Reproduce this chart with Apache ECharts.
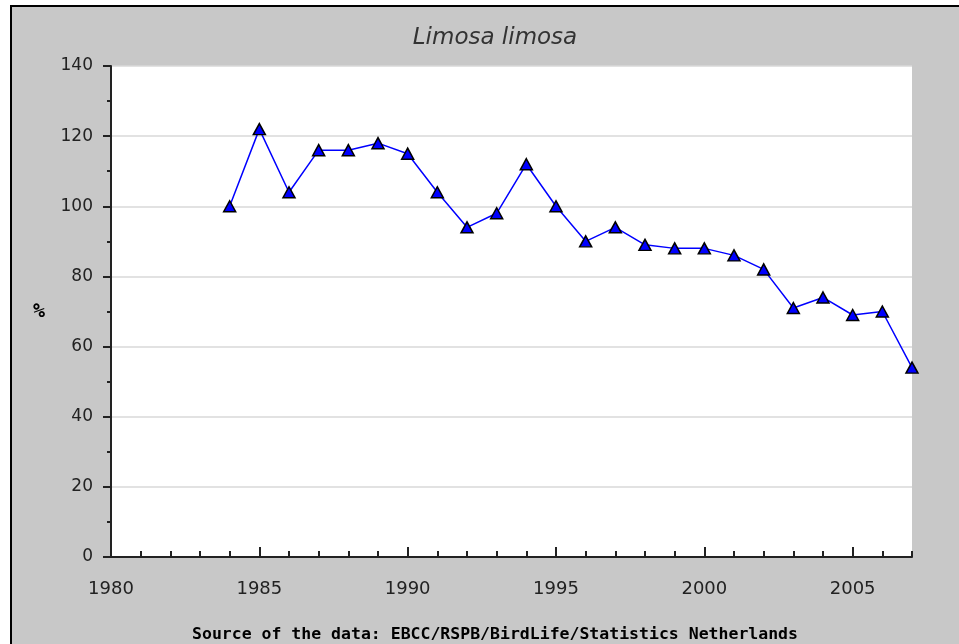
<!DOCTYPE html>
<html>
<head>
<meta charset="utf-8">
<script src="https://cdn.jsdelivr.net/npm/echarts@6/dist/echarts.min.js"></script>
<style>
  html, body { margin: 0; padding: 0; background: #fff; }
  #chart { width: 959px; height: 644px; }
</style>
</head>
<body>
<div id="chart"></div>
<script>
var myChart = echarts.init(document.getElementById('chart'));

// index values per year (1984 = 100)
var years = [1984, 1985, 1986, 1987, 1988, 1989, 1990, 1991, 1992, 1993, 1994, 1995,
    1996, 1997, 1998, 1999, 2000, 2001, 2002, 2003, 2004, 2005, 2006, 2007];
var values = [100, 122, 104, 116, 116, 118, 115, 104, 94, 98, 112, 100,
    90, 94, 89, 88, 88, 86, 82, 71, 74, 69, 70, 54];
var xLabels = [1980, 1985, 1990, 1995, 2000, 2005];

var data = years.map(function (y, i) { return [y, values[i]]; });

var labelFont = {
    color: '#222',
    fontFamily: 'DejaVu Sans',
    fontSize: 17
};

var option = {
    backgroundColor: '#fff',
    animation: false,
    graphic: {
        z: -10,
        elements: [{
            type: 'rect',
            z: -10,
            shape: {x: 11, y: 6, width: 1000, height: 700},
            style: {fill: '#c8c8c8', stroke: '#000', lineWidth: 2}
        }]
    },
    title: [
        {
            text: 'Limosa limosa',
            left: 490,
            top: 22,
            textAlign: 'center',
            textStyle: {
                color: '#333',
                fontFamily: 'DejaVu Sans',
                fontStyle: 'italic',
                fontWeight: 'normal',
                fontSize: 23
            }
        },
        {
            text: 'Source of the data: EBCC/RSPB/BirdLife/Statistics Netherlands',
            left: 490,
            top: 621,
            textAlign: 'center',
            textStyle: {
                color: '#000',
                fontFamily: 'DejaVu Sans Mono',
                fontWeight: 'bold',
                fontSize: 16.5
            }
        }
    ],
    grid: {
        left: 111,
        top: 66,
        right: 47,
        bottom: 87,
        show: true,
        backgroundColor: '#fff',
        borderWidth: 0
    },
    xAxis: [
        {
            type: 'value',
            min: 1980,
            max: 2007,
            interval: 1,
            axisLine: {onZero: false, lineStyle: {color: '#222', width: 2}},
            axisTick: {inside: true, length: 6, lineStyle: {color: '#222', width: 2}},
            axisLabel: {
                customValues: xLabels,
                margin: 23,
                formatter: function (v) { return String(v); },
                color: labelFont.color,
                fontFamily: labelFont.fontFamily,
                fontSize: 18
            },
            splitLine: {show: false}
        },
        {
            // longer ticks every 5 years
            type: 'value',
            position: 'bottom',
            min: 1980,
            max: 2007,
            interval: 1,
            axisLine: {show: false, onZero: false},
            axisTick: {
                inside: true,
                length: 10,
                customValues: xLabels,
                lineStyle: {color: '#222', width: 2}
            },
            axisLabel: {show: false},
            splitLine: {show: false}
        }
    ],
    yAxis: {
        type: 'value',
        min: 0,
        max: 140,
        interval: 20,
        name: '%',
        nameLocation: 'middle',
        nameRotate: 0,
        nameGap: 66,
        nameTextStyle: {
            color: '#000',
            fontFamily: 'DejaVu Sans Mono',
            fontWeight: 'bold',
            fontSize: 20
        },
        axisLine: {lineStyle: {color: '#222', width: 2}},
        axisTick: {length: 8, lineStyle: {color: '#222', width: 2}},
        minorTick: {show: true, splitNumber: 2, length: 4, lineStyle: {color: '#222', width: 2}},
        axisLabel: {
            margin: 18,
            color: labelFont.color,
            fontFamily: labelFont.fontFamily,
            fontSize: labelFont.fontSize
        },
        splitLine: {lineStyle: {color: '#d8d8d8', width: 1.5}}
    },
    series: [{
        name: 'Limosa limosa',
        type: 'line',
        data: data,
        symbol: 'triangle',
        symbolSize: [12, 11],
        lineStyle: {color: '#0000ff', width: 1.5},
        itemStyle: {color: '#0000ff', borderColor: '#000', borderWidth: 1.5}
    }]
};
myChart.setOption(option);
</script>
</body>
</html>
